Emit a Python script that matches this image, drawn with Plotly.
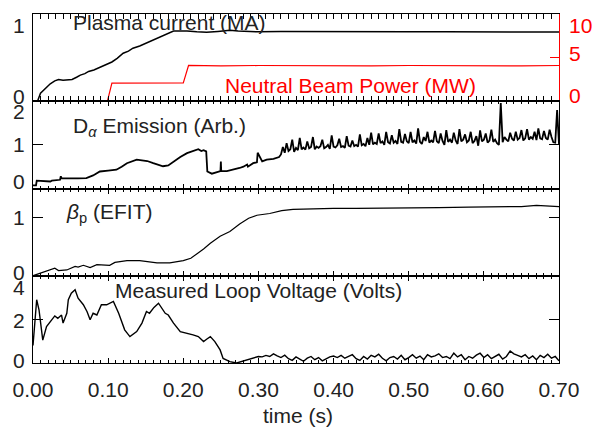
import numpy as np
import plotly.graph_objects as go
from plotly.subplots import make_subplots

# ---------------- data ----------------
time_ticks = [0.0, 0.1, 0.2, 0.3, 0.4, 0.5, 0.6, 0.7]

# Plasma current (MA)
ip_t = [0.0, 0.006, 0.010, 0.016, 0.023, 0.029, 0.034, 0.040, 0.046, 0.052,
        0.058, 0.063, 0.069, 0.074, 0.081, 0.089, 0.097, 0.105, 0.112, 0.120,
        0.127, 0.133, 0.142, 0.151, 0.160, 0.169, 0.178, 0.187, 0.196, 0.205,
        0.218, 0.231, 0.246, 0.262, 0.273, 0.284, 0.30, 0.33, 0.36, 0.40,
        0.45, 0.50, 0.55, 0.60, 0.65, 0.70]
ip_v = [0.0, 0.0, 0.11, 0.17, 0.24, 0.28, 0.30, 0.29, 0.29, 0.30,
        0.33, 0.36, 0.38, 0.41, 0.43, 0.47, 0.50, 0.54, 0.59, 0.66,
        0.69, 0.73, 0.76, 0.80, 0.84, 0.89, 0.93, 0.966, 0.965, 0.966,
        0.955, 0.948, 0.96, 0.975, 0.965, 0.958, 0.955, 0.958, 0.956, 0.955,
        0.957, 0.955, 0.956, 0.953, 0.955, 0.952]

# Neutral beam power (MW)
nb_t = [0.0, 0.099, 0.105, 0.15, 0.200, 0.207, 0.25, 0.30, 0.35, 0.40,
        0.45, 0.50, 0.55, 0.60, 0.65, 0.70]
nb_v = [0.0, 0.0, 2.07, 2.1, 2.1, 4.1, 4.05, 4.1, 4.06, 4.1,
        4.05, 4.1, 4.07, 4.1, 4.06, 4.1]

# D-alpha emission (arb.)
da_t_early = [0.0, 0.004, 0.005, 0.023, 0.025, 0.036, 0.037, 0.038, 0.060, 0.071,
              0.080, 0.089, 0.100, 0.111, 0.118, 0.125, 0.138, 0.145, 0.152, 0.160,
              0.165, 0.173, 0.180, 0.187, 0.196, 0.205, 0.213, 0.220, 0.224, 0.227,
              0.2305, 0.232, 0.238, 0.245, 0.2495, 0.250, 0.2505, 0.258, 0.267, 0.275,
              0.280, 0.285, 0.286, 0.293, 0.298, 0.299, 0.305, 0.311, 0.320, 0.3275]
da_v_early = [0.07, 0.07, 0.18, 0.16, 0.18, 0.20, 0.28, 0.24, 0.23, 0.24,
              0.30, 0.39, 0.41, 0.43, 0.50, 0.58, 0.66, 0.65, 0.63, 0.58,
              0.55, 0.51, 0.53, 0.62, 0.72, 0.81, 0.86, 0.90, 0.86, 0.88,
              0.85, 0.39, 0.34, 0.38, 0.40, 0.62, 0.40, 0.40, 0.43, 0.47,
              0.50, 0.55, 0.50, 0.58, 0.60, 0.82, 0.62, 0.66, 0.68, 0.72]
# sampled every 2.5 ms from 0.330 s
da_dense_t0, da_dense_dt = 0.33, 0.0025
da_v_dense = [
    0.78, 0.95, 0.82, 1.04, 0.86, 0.90, 1.12, 0.84, 0.93, 0.88,
    1.16, 0.90, 0.94, 0.89, 1.08, 0.92, 0.95, 1.18, 0.90, 0.96,
    0.93, 0.97, 1.12, 0.92, 0.95, 1.00, 0.91, 1.22, 0.96, 0.94,
    0.99, 1.14, 0.95, 0.97, 0.93, 1.20, 0.98, 0.96, 1.10, 0.97,
    1.00, 0.96, 1.24, 0.99, 1.02, 0.97, 1.16, 1.00, 1.28, 1.01,
    1.05, 1.02, 1.26, 1.04, 1.08, 1.00, 1.30, 1.06, 1.03, 1.22,
    1.05, 1.09, 1.02, 1.36, 1.07, 1.05, 1.25, 1.08, 1.04, 1.30,
    1.06, 1.10, 1.03, 1.38, 1.07, 1.02, 1.18, 1.09, 1.30, 1.05,
    1.10, 1.06, 1.32, 1.08, 1.04, 1.26, 1.09, 1.00, 1.34, 1.07,
    1.12, 1.05, 1.28, 1.10, 1.02, 1.36, 1.08, 1.12, 1.24, 1.06,
    1.10, 1.30, 1.04, 1.09, 1.20, 0.98, 1.33, 1.08, 1.12, 1.26,
    1.05, 1.10, 1.35, 1.07, 1.12, 1.04, 1.00, 1.96, 1.06, 1.18,
    1.12, 1.08, 1.28, 1.14, 1.10, 1.30, 1.12, 1.16, 1.34, 1.10,
    1.15, 1.36, 1.12, 1.18, 1.14, 1.30, 1.11, 1.38, 1.15, 1.13,
    1.32, 1.16, 1.12, 1.35, 1.18, 1.06, 1.05, 1.80, 1.02]

# Poloidal beta (EFIT)
bp_t = [0.0, 0.014, 0.029, 0.034, 0.045, 0.056, 0.060, 0.067, 0.076, 0.085,
        0.093, 0.102, 0.109, 0.125, 0.142, 0.155, 0.165, 0.182, 0.200, 0.210,
        0.218, 0.227, 0.236, 0.249, 0.262, 0.275, 0.287, 0.298, 0.315, 0.331,
        0.346, 0.37, 0.40, 0.43, 0.46, 0.50, 0.54, 0.58, 0.62, 0.65,
        0.67, 0.69, 0.70]
bp_v = [0.0, 0.06, 0.13, 0.09, 0.10, 0.16, 0.15, 0.18, 0.14, 0.19,
        0.19, 0.18, 0.23, 0.26, 0.26, 0.24, 0.22, 0.22, 0.26, 0.30,
        0.37, 0.46, 0.56, 0.68, 0.76, 0.89, 0.99, 1.04, 1.07, 1.12,
        1.14, 1.15, 1.16, 1.16, 1.16, 1.17, 1.17, 1.18, 1.19, 1.19,
        1.21, 1.20, 1.19]

# Measured loop voltage (V)
lv_t_early = [0.0, 0.0049, 0.008, 0.012, 0.013, 0.018, 0.023, 0.029, 0.033, 0.038,
              0.040, 0.045, 0.047, 0.051, 0.056, 0.060, 0.067, 0.072, 0.076, 0.080,
              0.085, 0.091, 0.098, 0.107, 0.114, 0.122, 0.129, 0.138, 0.145, 0.151,
              0.155, 0.161, 0.167, 0.171, 0.176, 0.180, 0.187, 0.196, 0.205, 0.213,
              0.220, 0.227, 0.231, 0.236, 0.242, 0.249, 0.253, 0.262, 0.271, 0.277,
              0.285]
lv_v_early = [0.8, 2.9, 2.44, 1.13, 1.05, 1.67, 1.9, 2.16, 2.05, 2.2,
              1.83, 2.28, 2.9, 3.2, 3.36, 2.97, 2.67, 2.35, 1.98, 2.28,
              2.2, 2.67, 2.67, 2.82, 2.28, 1.52, 1.21, 1.44, 1.83, 2.36,
              2.28, 2.55, 2.74, 2.51, 2.28, 2.2, 1.83, 1.44, 1.37, 1.29,
              1.21, 0.98, 1.09, 1.21, 0.98, 0.6, 0.21, 0.06, 0.0, 0.06,
              0.12]
# sampled every 5 ms from 0.290 s
lv_dense_t0, lv_dense_dt = 0.29, 0.005
lv_v_dense = [
    0.17, 0.22, 0.30, 0.28, 0.35, 0.30, 0.42, 0.33, 0.25, 0.36,
    0.20, 0.12, 0.28, 0.18, 0.08, 0.22, 0.30, 0.15, 0.25, 0.10,
    0.20, 0.28, 0.32, 0.25, 0.35, 0.22, 0.30, 0.38, 0.20, 0.12,
    0.30, 0.18, 0.35, 0.28, 0.40, 0.22, 0.10, 0.25, 0.30, 0.18,
    0.35, 0.15, 0.25, 0.38, 0.22, 0.32, 0.15, 0.38, 0.28, 0.33,
    0.42, 0.25, 0.30, 0.20, 0.45, 0.28, 0.38, 0.15, 0.30, 0.22,
    0.36, 0.45, 0.25, 0.38, 0.20, 0.32, 0.40, 0.18, 0.30, 0.55,
    0.42, 0.35, 0.28, 0.38, 0.20, 0.32, 0.15, 0.35, 0.25, 0.40,
    0.22, 0.30, 0.10]

# axis tick labels per panel
ip_ticks = [0, 1]
nb_ticks = [0, 5, 10]
da_ticks = [0, 1, 2]
bp_ticks = [0, 1]
lv_ticks = [0, 2, 4]

# ---------------- assemble sampled series ----------------
da_t = da_t_early + list(np.round(da_dense_t0 + da_dense_dt * np.arange(len(da_v_dense)), 5))
da_v = da_v_early + da_v_dense
lv_t = lv_t_early + list(np.round(lv_dense_t0 + lv_dense_dt * np.arange(len(lv_v_dense)), 5))
lv_v = lv_v_early + lv_v_dense

FONT = "Liberation Sans, Arial, Helvetica, sans-serif"
TXT = "#222222"
FS = 21

fig = make_subplots(rows=4, cols=1, shared_xaxes=True, vertical_spacing=0,
                    specs=[[{"secondary_y": True}], [{}], [{}], [{}]])

fig.add_trace(go.Scatter(x=ip_t, y=ip_v, mode="lines",
                         line=dict(color="black", width=1.5)), row=1, col=1)
fig.add_trace(go.Scatter(x=nb_t, y=nb_v, mode="lines",
                         line=dict(color="red", width=1.2)), row=1, col=1, secondary_y=True)
fig.add_trace(go.Scatter(x=da_t, y=da_v, mode="lines",
                         line=dict(color="black", width=1.8)), row=2, col=1)
fig.add_trace(go.Scatter(x=bp_t, y=bp_v, mode="lines",
                         line=dict(color="black", width=1.2)), row=3, col=1)
fig.add_trace(go.Scatter(x=lv_t, y=lv_v, mode="lines",
                         line=dict(color="black", width=1.4)), row=4, col=1)

xcommon = dict(domain=[0, 1], range=[0, 0.7], tickvals=time_ticks, tickformat=".2f",
               ticks="inside", ticklen=5, tickcolor="black", tickwidth=1,
               mirror="allticks", showline=True, linecolor="black", linewidth=1,
               showgrid=False, zeroline=False,
               minor=dict(dtick=0.01, ticks="inside", ticklen=3,
                          tickcolor="black", tickwidth=1, showgrid=False),
               tickfont=dict(family=FONT, size=FS, color=TXT))
for i in range(1, 5):
    name = "xaxis" if i == 1 else f"xaxis{i}"
    fig.layout[name].update(**xcommon)
    fig.layout[name].update(showticklabels=(i == 4))
fig.layout.xaxis4.update(ticklabelstandoff=8)

ycommon = dict(showline=True, linecolor="black", linewidth=1,
               ticks="inside", ticklen=10, tickcolor="black", tickwidth=1,
               showticklabels=False, showgrid=False, zeroline=False)
fig.layout.yaxis.update(**ycommon, range=[0, 1.2], tickvals=ip_ticks, mirror=False)
fig.layout.yaxis.update(ticks="")
fig.layout.yaxis2.update(range=[0, 10], tickvals=nb_ticks, showline=True,
                         linecolor="red", linewidth=1, ticks="inside", ticklen=9,
                         tickcolor="red", showticklabels=False, showgrid=False,
                         zeroline=False)
fig.layout.yaxis3.update(**ycommon, range=[0, 2], tickvals=da_ticks, mirror="ticks")
fig.layout.yaxis4.update(**ycommon, range=[0, 1.5], tickvals=bp_ticks, mirror="ticks")
fig.layout.yaxis5.update(**ycommon, range=[0, 4], tickvals=lv_ticks, mirror="ticks")

annotations = []

def ylabels(ticks, yref, shifts, side="left", color=TXT):
    for v, s in zip(ticks, shifts):
        annotations.append(dict(
            text=str(v), xref="paper", x=0 if side == "left" else 1,
            xanchor="right" if side == "left" else "left",
            xshift=-6 if side == "left" else 8,
            yref=yref, y=v, yanchor="middle", yshift=s, showarrow=False,
            font=dict(family=FONT, size=FS, color=color)))

ylabels(ip_ticks, "y", [5, 3.5])
ylabels(nb_ticks, "y2", [6, 4.5, -11], side="right", color="red")
ylabels(da_ticks, "y3", [7, 0, -10.5])
ylabels(bp_ticks, "y4", [3.5, 0])
ylabels(lv_ticks, "y5", [3, -1, -12])

def label(text, x, y, yref, color=TXT):
    annotations.append(dict(text=text, xref="x", x=x, yref=yref, y=y,
                            xanchor="center", yanchor="middle", showarrow=False,
                            font=dict(family=FONT, size=FS, color=color)))

label("Plasma current (MA)", 0.181, 1.09, "y")
label("Neutral Beam Power (MW)", 0.422, 1.84, "y2", color="red")
label("D<sub><i>α</i></sub> Emission (Arb.)", 0.169, 1.42, "y3")
label("<i>β</i><sub>p</sub> (EFIT)", 0.102, 1.08, "y4")
label("Measured Loop Voltage (Volts)", 0.2995, 3.31, "y5")

annotations.append(dict(text="time (s)", xref="x", x=0.353, yref="paper", y=-0.149,
                        xanchor="center", yanchor="middle", showarrow=False,
                        font=dict(family=FONT, size=FS, color=TXT)))

fig.update_layout(width=595, height=445,
                  margin=dict(l=33, r=36, t=14, b=82),
                  paper_bgcolor="white", plot_bgcolor="white",
                  showlegend=False, annotations=annotations,
                  font=dict(family=FONT, size=FS, color=TXT))

fig.write_html("out.html")
